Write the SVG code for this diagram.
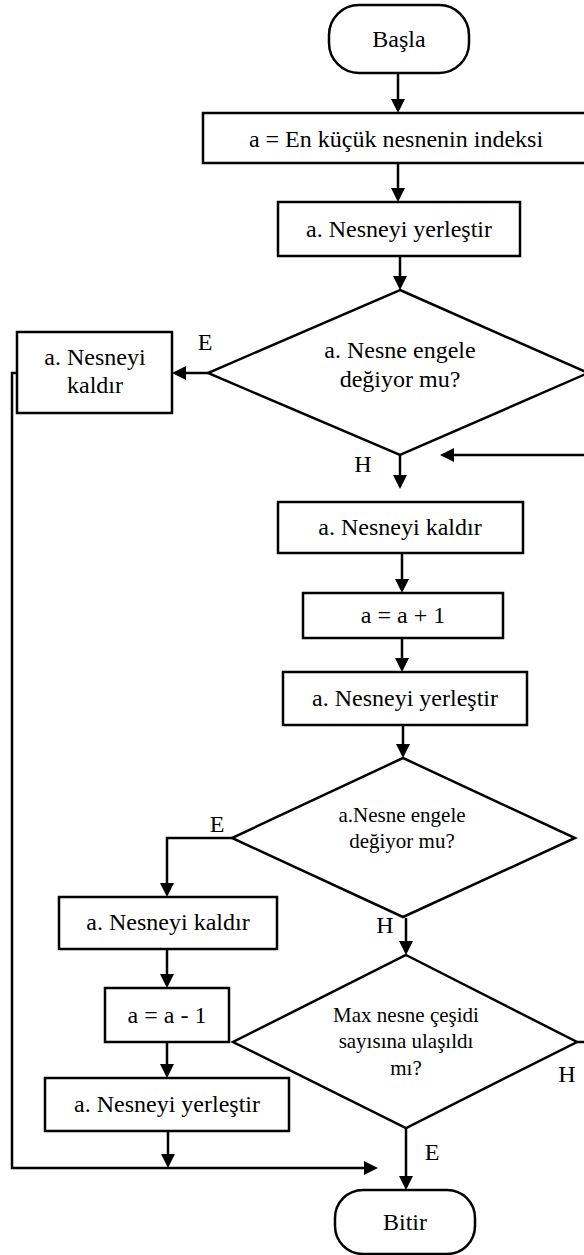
<svg xmlns="http://www.w3.org/2000/svg" width="584" height="1255" viewBox="0 0 584 1255">
  <style>
    .shape { fill: #ffffff; stroke: #000000; stroke-width: 2.5; }
    .edge { fill: none; stroke: #000000; stroke-width: 2.5; }
    .t { font-family: "Liberation Serif", "Times New Roman", serif; font-size: 24px; fill: #000000; text-anchor: middle; }
    .ts { font-size: 21px; }
  </style>
  <defs>
    <marker id="arrow" markerUnits="userSpaceOnUse" markerWidth="15" markerHeight="14" refX="11" refY="7" orient="auto">
      <path d="M0,0 L14,7 L0,14 Z" fill="#000000"/>
    </marker>
  </defs>

  <rect width="584" height="1255" fill="#ffffff"/>

  <!-- connectors -->
  <g id="connectors">
    <line class="edge" x1="398" y1="73" x2="398" y2="110" marker-end="url(#arrow)"/>
    <line class="edge" x1="398" y1="163" x2="398" y2="199" marker-end="url(#arrow)"/>
    <line class="edge" x1="400" y1="256" x2="400" y2="287" marker-end="url(#arrow)"/>
    <!-- E branch of first decision -->
    <line class="edge" x1="208" y1="373" x2="175" y2="373" marker-end="url(#arrow)"/>
    <!-- H branch of first decision -->
    <line class="edge" x1="400" y1="455" x2="400" y2="486" marker-end="url(#arrow)"/>
    <!-- loop back from the right -->
    <line class="edge" x1="590" y1="455" x2="443" y2="455" marker-end="url(#arrow)"/>
    <line class="edge" x1="402" y1="553" x2="402" y2="590" marker-end="url(#arrow)"/>
    <line class="edge" x1="402" y1="638" x2="402" y2="669" marker-end="url(#arrow)"/>
    <line class="edge" x1="403" y1="725" x2="403" y2="755" marker-end="url(#arrow)"/>
    <!-- E branch of second decision -->
    <polyline class="edge" points="232,838 167,838 167,894" marker-end="url(#arrow)"/>
    <!-- H branch of second decision -->
    <line class="edge" x1="406" y1="918" x2="406" y2="952" marker-end="url(#arrow)"/>
    <!-- H branch of third decision -->
    <line class="edge" x1="577" y1="1042" x2="590" y2="1042"/>
    <line class="edge" x1="167" y1="949" x2="167" y2="985" marker-end="url(#arrow)"/>
    <line class="edge" x1="167" y1="1042" x2="167" y2="1075" marker-end="url(#arrow)"/>
    <line class="edge" x1="168" y1="1131" x2="168" y2="1165" marker-end="url(#arrow)"/>
    <!-- left return path to the end -->
    <polyline class="edge" points="17,373 12,373 12,1168 375,1168" marker-end="url(#arrow)"/>
    <!-- E branch of third decision -->
    <line class="edge" x1="406" y1="1128" x2="406" y2="1187" marker-end="url(#arrow)"/>
  </g>

  <!-- edge labels -->
  <g id="labels">
    <text class="t" x="205" y="350">E</text>
    <text class="t" x="363" y="472">H</text>
    <text class="t" x="217" y="832">E</text>
    <text class="t" x="385" y="933">H</text>
    <text class="t" x="567" y="1082">H</text>
    <text class="t" x="432" y="1160">E</text>
  </g>

  <g id="start">
    <rect class="shape" x="329" y="5" width="140" height="68" rx="30"/>
    <text class="t" x="399" y="47">Başla</text>
  </g>

  <g id="init-index">
    <rect class="shape" x="203" y="113" width="386" height="50"/>
    <text class="t" x="396" y="147">a = En küçük nesnenin indeksi</text>
  </g>

  <g id="place-1">
    <rect class="shape" x="278" y="202" width="242" height="54"/>
    <text class="t" x="399" y="237">a. Nesneyi yerleştir</text>
  </g>

  <g id="check-1">
    <polygon class="shape" points="400,290 588,373 400,455 208,373"/>
    <text class="t" x="400" y="358">a. Nesne engele</text>
    <text class="t" x="400" y="387">değiyor mu?</text>
  </g>

  <g id="remove-1">
    <rect class="shape" x="17" y="332" width="155" height="81"/>
    <text class="t" x="95" y="365">a. Nesneyi</text>
    <text class="t" x="95" y="393">kaldır</text>
  </g>

  <g id="remove-2">
    <rect class="shape" x="278" y="502" width="245" height="51"/>
    <text class="t" x="400" y="535">a. Nesneyi kaldır</text>
  </g>

  <g id="increment">
    <rect class="shape" x="303" y="593" width="200" height="45"/>
    <text class="t" x="403" y="623">a = a + 1</text>
  </g>

  <g id="place-2">
    <rect class="shape" x="283" y="672" width="244" height="53"/>
    <text class="t" x="405" y="706">a. Nesneyi yerleştir</text>
  </g>

  <g id="check-2">
    <polygon class="shape" points="403,758 575,838 403,917 232,838"/>
    <text class="t ts" x="402" y="822">a.Nesne engele</text>
    <text class="t ts" x="402" y="848">değiyor mu?</text>
  </g>

  <g id="check-max">
    <polygon class="shape" points="406,955 577,1042 406,1128 233,1042"/>
    <text class="t ts" x="406" y="1022">Max nesne çeşidi</text>
    <text class="t ts" x="406" y="1048">sayısına ulaşıldı</text>
    <text class="t ts" x="406" y="1075">mı?</text>
  </g>

  <g id="remove-3">
    <rect class="shape" x="59" y="897" width="218" height="52"/>
    <text class="t" x="168" y="930">a. Nesneyi kaldır</text>
  </g>

  <g id="decrement">
    <rect class="shape" x="105" y="988" width="124" height="54"/>
    <text class="t" x="167" y="1023">a = a - 1</text>
  </g>

  <g id="place-3">
    <rect class="shape" x="45" y="1078" width="244" height="53"/>
    <text class="t" x="167" y="1112">a. Nesneyi yerleştir</text>
  </g>

  <g id="end">
    <rect class="shape" x="335" y="1190" width="140" height="64" rx="28"/>
    <text class="t" x="405" y="1230">Bitir</text>
  </g>
</svg>
